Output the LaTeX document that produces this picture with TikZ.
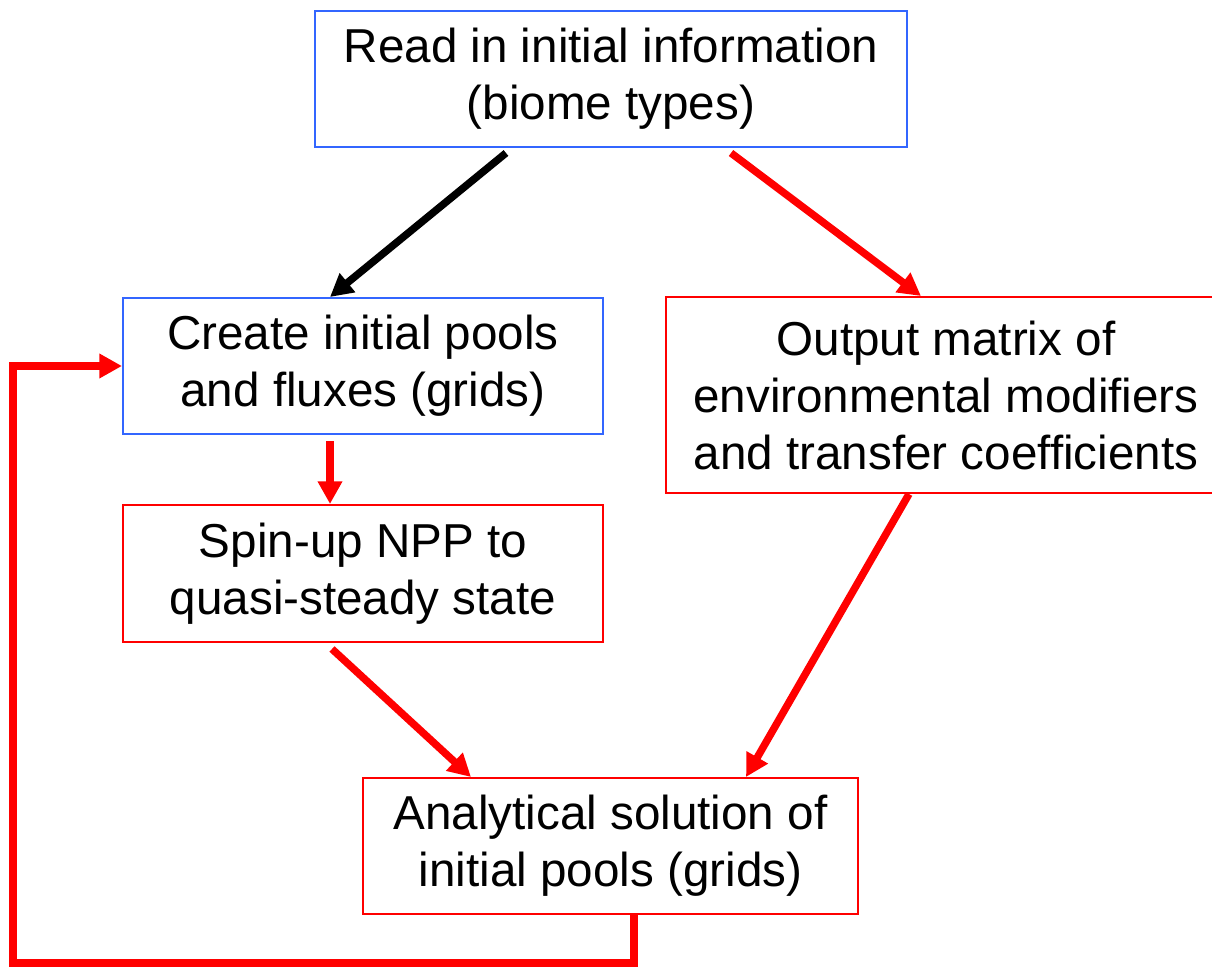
\documentclass[tikz,border=0pt]{standalone}
\usepackage{fontspec}
\setmainfont{Liberation Sans}
\usetikzlibrary{arrows.meta}
\definecolor{boxblue}{RGB}{51,102,255}
\definecolor{flowred}{RGB}{255,0,0}
\begin{document}
\begin{tikzpicture}[x=0.75pt,y=-0.75pt,
  box/.style={draw, line width=1.5pt, fill=white, align=center, inner sep=0pt,
    font=\fontsize{35.7}{42.75}\selectfont},
  bluebox/.style={box, draw=boxblue},
  redbox/.style={box, draw=flowred},
  flow/.style={line width=5.6pt, -{Triangle[length=17pt,width=17.5pt]}},
  redflow/.style={flow, color=flowred},
]
\useasboundingbox (0,0) rectangle (1212,969);
\clip (0,0) rectangle (1212,969);

% process boxes
\node[bluebox, minimum width=444pt, minimum height=102pt] (read) at (611,79)
  {Read in initial information\\(biome types)};
\node[bluebox, minimum width=360pt, minimum height=102pt] (create) at (363,366)
  {Create initial pools\\and fluxes (grids)};
\node[redbox, minimum width=420pt, minimum height=147pt] (output) at (946,395)
  {Output matrix of\\environmental modifiers\\and transfer coefficients};
\node[redbox, minimum width=360pt, minimum height=102.75pt] (spin) at (363,573.5)
  {Spin-up NPP to\\quasi-steady state};
\node[redbox, minimum width=371.25pt, minimum height=102pt] (anal) at (610.5,846)
  {Analytical solution of\\initial pools (grids)};

% connectors
\draw[flow, color=black]
  ([shift={(192,5)}]read.south west) -- ([shift={(208,0)}]create.north west);
\draw[redflow]
  ([shift={(417,5)}]read.south west) -- ([shift={(256,0)}]output.north west);
\draw[redflow]
  ([shift={(208,6)}]create.south west) -- ([shift={(208,0)}]spin.north west);
\draw[redflow]
  ([shift={(210,6)}]spin.south west) -- ([shift={(109,0)}]anal.north west);
\draw[redflow]
  ([shift={(244,0)}]output.south west) -- ([shift={(384,0)}]anal.north west);

% feedback loop back to the pool creation step
\coordinate (loopL) at (13,963);
\draw[redflow]
  ([shift={(272,-2)}]anal.south west) |- (loopL) |- (create.west);
\end{tikzpicture}
\end{document}
